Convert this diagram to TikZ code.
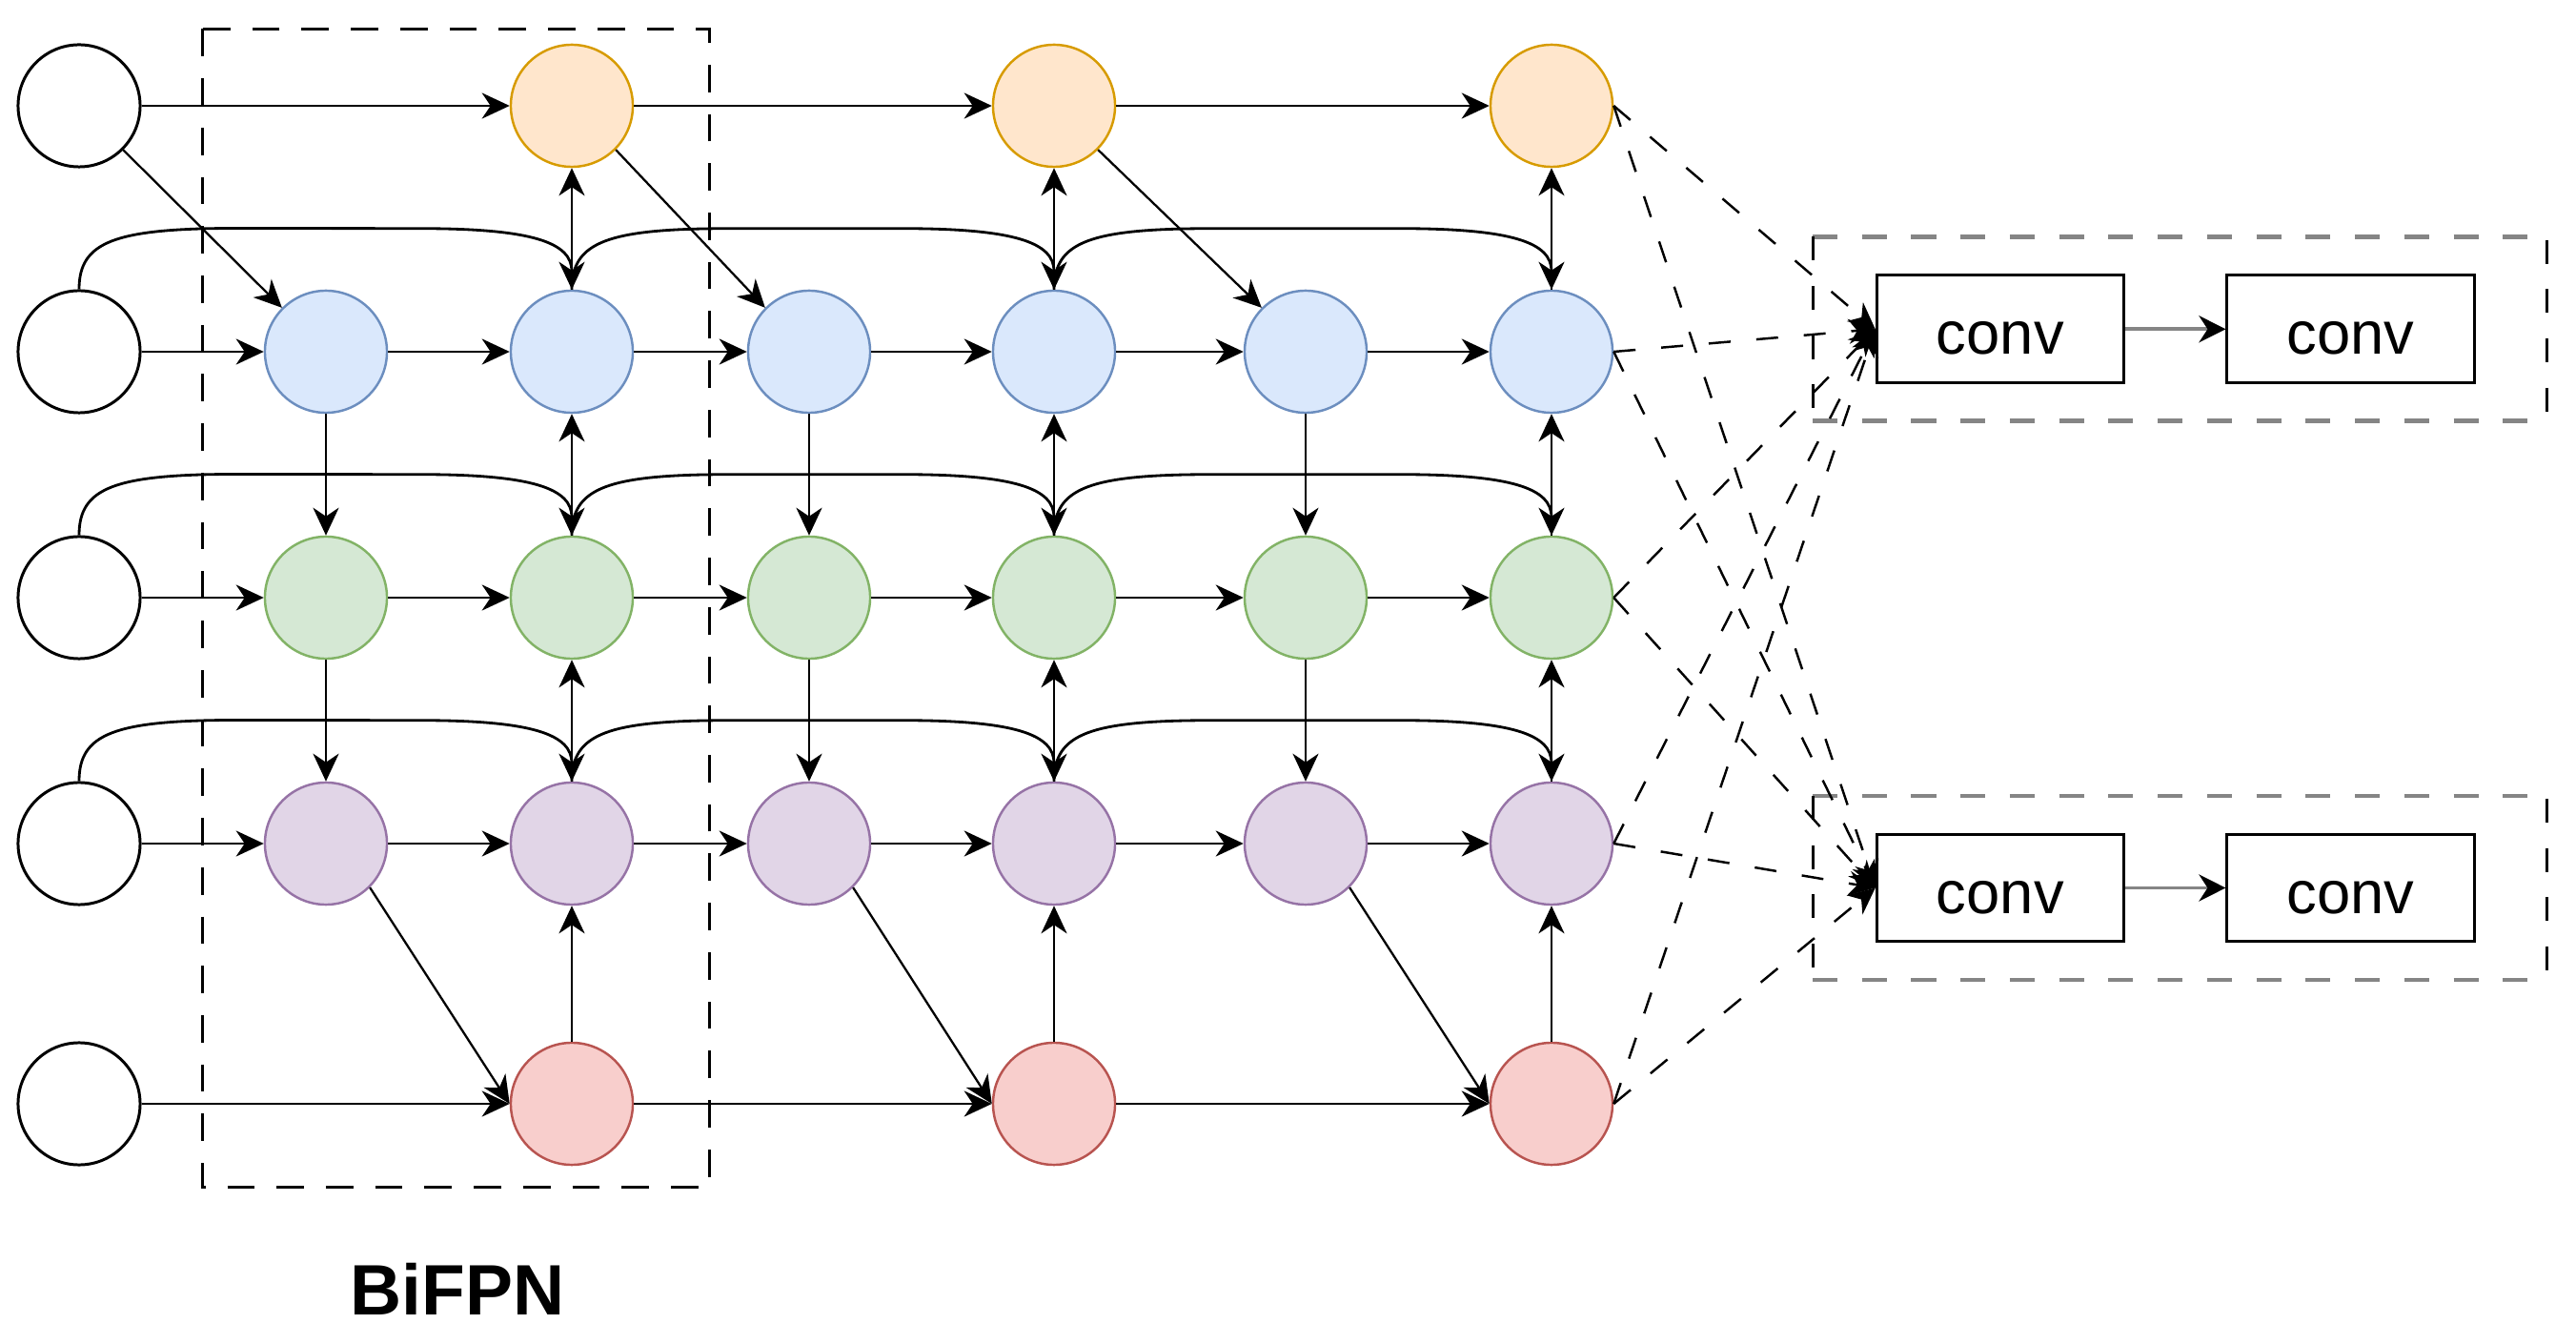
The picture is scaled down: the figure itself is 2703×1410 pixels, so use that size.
\documentclass[tikz,border=0pt]{standalone}
\usepackage{fontspec}
\setmainfont{Liberation Sans}
\usetikzlibrary{arrows.meta,calc}
\definecolor{orF}{HTML}{FFE6CC}\definecolor{orD}{HTML}{D79B00}
\definecolor{blF}{HTML}{DAE8FC}\definecolor{blD}{HTML}{6C8EBF}
\definecolor{grF}{HTML}{D5E8D4}\definecolor{grD}{HTML}{82B366}
\definecolor{puF}{HTML}{E1D5E7}\definecolor{puD}{HTML}{9673A6}
\definecolor{reF}{HTML}{F8CECC}\definecolor{reD}{HTML}{B85450}
\definecolor{boxgray}{HTML}{858585}
\newcommand\bfskip[2]{\draw[arr] (#1.north) .. controls ($(#1.north)+(0,-50)$) and ($(#1.north)+(37,-64)$) .. ($(#1.north)+(167,-64)$) -- ($(#2.north)+(-160,-64)$) .. controls ($(#2.north)+(-40,-64)$) and ($(#2.north)+(0,-49)$) .. (#2.north);}
\begin{document}
\begin{tikzpicture}[x=0.01cm,y=-0.01cm,
  nd/.style={circle,minimum size=1.28cm,inner sep=0pt,line width=0.7pt},
  inp/.style={nd,draw=black,fill=white,line width=0.85pt},
  orn/.style={nd,draw=orD,fill=orF},
  bln/.style={nd,draw=blD,fill=blF},
  grn/.style={nd,draw=grD,fill=grF},
  pun/.style={nd,draw=puD,fill=puF},
  ren/.style={nd,draw=reD,fill=reF},
  tip/.style={},
  arr/.style={line width=0.8pt,-{Stealth[length=0.29cm,width=0.27cm,inset=0.09cm]}},
  thinarr/.style={arr,line width=0.65pt},
  dsharr/.style={line width=0.7pt,dash pattern=on 0.23cm off 0.27cm,-{Stealth[length=0.28cm,width=0.26cm,inset=0.09cm]}},
  grayarr/.style={line width=1.1pt,draw=boxgray,-{Stealth[length=0.28cm,width=0.28cm,inset=0.09cm,color=black]}},
  convbox/.style={draw,line width=0.85pt,minimum width=2.59cm,minimum height=1.127cm,inner sep=0pt,text height=0.53cm,text depth=0cm,font=\fontsize{18pt}{20pt}\selectfont},
  bifdash/.style={line width=0.8pt,dash pattern=on 0.287cm off 0.23cm},
  grayedge/.style={line width=1.4pt,draw=boxgray,dash pattern=on 0.26cm off 0.257cm},
  blackedge/.style={line width=0.85pt,dash pattern=on 0.25cm off 0.267cm},
]
\useasboundingbox (0,0) rectangle (2703,1410);

% BiFPN frame
\draw[bifdash] (212.4,30.4) rectangle (744.6,1245.8);
\node[inner sep=0pt,font=\bfseries\fontsize{21.3pt}{24pt}\selectfont] (lbl) at (480,1352) {BiFPN};

% nodes
\node[inp] (i0) at (83,111) {};
\node[inp] (i1) at (83,369) {};
\node[inp] (i2) at (83,627) {};
\node[inp] (i3) at (83,885) {};
\node[inp] (i4) at (83,1158) {};

\node[orn] (o2) at (600,111) {};
\node[orn] (o4) at (1106,111) {};
\node[orn] (o6) at (1628,111) {};

\foreach \c/\x in {1/342,2/600,3/849,4/1106,5/1370,6/1628}{
  \node[bln] (b\c) at (\x,369) {};
  \node[grn] (g\c) at (\x,627) {};
  \node[pun] (p\c) at (\x,885) {};
}
\node[ren] (r2) at (600,1158) {};
\node[ren] (r4) at (1106,1158) {};
\node[ren] (r6) at (1628,1158) {};

% top row
\draw[arr] (i0) -- (o2);
\draw[arr] (o2) -- (o4);
\draw[arr] (o4) -- (o6);
% bottom row
\draw[arr] (i4) -- (r2);
\draw[arr] (r2) -- (r4);
\draw[arr] (r4) -- (r6);
% middle rows
\foreach \r/\i in {b/i1,g/i2,p/i3}{
  \draw[arr] (\i) -- (\r1);
  \draw[arr] (\r1) -- (\r2);
  \draw[arr] (\r2) -- (\r3);
  \draw[arr] (\r3) -- (\r4);
  \draw[arr] (\r4) -- (\r5);
  \draw[arr] (\r5) -- (\r6);
}
% diagonals
\draw[thinarr] (i0.south east) -- (b1.north west);
\draw[thinarr] (o2.south east) -- (b3.north west);
\draw[thinarr] (o4.south east) -- (b5.north west);
\draw[thinarr] (p1.south east) -- (r2.west);
\draw[thinarr] (p3.south east) -- (r4.west);
\draw[thinarr] (p5.south east) -- (r6.west);
% top-down verticals
\foreach \c in {1,3,5}{
  \draw[arr] (b\c) -- (g\c);
  \draw[arr] (g\c) -- (p\c);
}
% bottom-up verticals
\foreach \c in {2,4,6}{
  \draw[arr] (r\c) -- (p\c);
  \draw[arr] (p\c) -- (g\c);
  \draw[arr] (g\c) -- (b\c);
  \draw[arr] (b\c) -- (o\c);
}
% skip connections
\bfskip{i1}{b2}\bfskip{b2}{b4}\bfskip{b4}{b6}
\bfskip{i2}{g2}\bfskip{g2}{g4}\bfskip{g4}{g6}
\bfskip{i3}{p2}\bfskip{p2}{p4}\bfskip{p4}{p6}

% heads
\draw[grayedge] (1902,248.3) -- (2672.7,248.3);
\draw[grayedge] (1902,441.7) -- (2672.7,441.7);
\draw[blackedge] (1902,248.3) -- (1902,441.7);
\draw[blackedge] (2672.7,251.7) -- (2672.7,441.7);
\draw[grayedge] (1902,835) -- (2672.7,835);
\draw[grayedge] (1902,1028) -- (2672.7,1028);
\draw[blackedge] (1902,835) -- (1902,1028);
\draw[blackedge] (2672.7,838) -- (2672.7,1028);

\node[convbox] (c1) at (2098.8,345.3) {conv};
\node[convbox] (c2) at (2466.5,345.3) {conv};
\node[convbox] (c3) at (2098.8,931.5) {conv};
\node[convbox] (c4) at (2466.5,931.5) {conv};
\draw[grayarr] (c1) -- (c2);
\draw[grayarr] (c3) -- (c4);

\foreach \n in {o6,b6,g6,p6,r6}{
  \draw[dsharr] (\n.east) -- (c1.west);
  \draw[dsharr] (\n.east) -- (c3.west);
}
\end{tikzpicture}
\end{document}
